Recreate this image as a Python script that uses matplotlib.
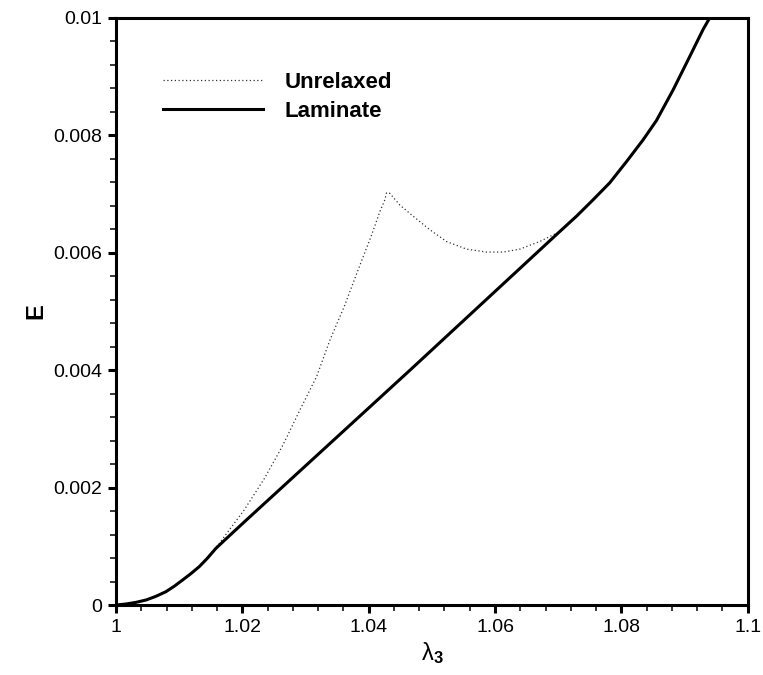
import matplotlib
matplotlib.use("Agg")
import matplotlib.pyplot as plt
from matplotlib.ticker import MultipleLocator

plt.rcParams['font.family'] = ['Liberation Sans', 'DejaVu Sans']
plt.rcParams['mathtext.fontset'] = 'custom'
plt.rcParams['mathtext.rm'] = 'Liberation Sans'
plt.rcParams['mathtext.bf'] = 'Liberation Sans:bold'
plt.rcParams['mathtext.it'] = 'Liberation Sans:italic'

# Unrelaxed energy (dotted)
unrelaxed_x = [1.000, 1.00158, 1.00475, 1.00791, 1.01055, 1.01318, 1.01636, 1.0203, 1.02347,
               1.02632, 1.02911, 1.03176, 1.03386, 1.03612, 1.03834, 1.04046, 1.04177, 1.04256,
               1.04283, 1.04335, 1.04494, 1.04705, 1.04968, 1.05232, 1.05549, 1.05865, 1.06128,
               1.06392, 1.06709, 1.07025]
unrelaxed_y = [0.0, 0.000017, 0.000085, 0.000227, 0.000426, 0.000653, 0.00105, 0.00162, 0.00215,
               0.00270, 0.00332, 0.00389, 0.00451, 0.00508, 0.00571, 0.00630, 0.00670, 0.00690,
               0.00702, 0.00701, 0.00681, 0.00662, 0.00639, 0.00619, 0.00606, 0.00601, 0.00601,
               0.00606, 0.00619, 0.00636]

# Laminate (relaxed) energy (solid)
laminate_x = [1.000, 1.00158, 1.00317, 1.00475, 1.00633, 1.00791, 1.00923, 1.01055, 1.01187,
              1.01318, 1.01450, 1.01582, 1.01846, 1.02057,
              1.04655, 1.07025, 1.07289, 1.07552, 1.07816, 1.08081, 1.08343, 1.08555, 1.08818,
              1.09082, 1.09293, 1.09399]
laminate_y = [0.0, 0.000017, 0.000045, 0.000085, 0.000148, 0.000227, 0.000320, 0.000426, 0.000535,
              0.000653, 0.000800, 0.000965, 0.00123, 0.00144,
              0.00400, 0.00636, 0.00662, 0.00690, 0.00719, 0.00755, 0.00792, 0.00825, 0.00877,
              0.00934, 0.00980, 0.01000]

x_ticks = [1.0, 1.02, 1.04, 1.06, 1.08, 1.1]
x_tick_labels = ['1', '1.02', '1.04', '1.06', '1.08', '1.1']
y_ticks = [0.0, 0.002, 0.004, 0.006, 0.008, 0.01]
y_tick_labels = ['0', '0.002', '0.004', '0.006', '0.008', '0.01']

fig = plt.figure(figsize=(7.63, 6.75), dpi=100)
ax = fig.add_axes([0.152, 0.1037, 0.828, 0.870])

ax.plot(unrelaxed_x, unrelaxed_y, color='#333333', lw=0.9, ls=(0, (1, 2)), label='Unrelaxed')
ax.plot(laminate_x, laminate_y, color='black', lw=2.2, label='Laminate',
        solid_joinstyle='round')

ax.set_xlim(1.0, 1.1)
ax.set_ylim(0.0, 0.01)
ax.set_xticks(x_ticks)
ax.set_xticklabels(x_tick_labels)
ax.set_yticks(y_ticks)
ax.set_yticklabels(y_tick_labels)
ax.xaxis.set_minor_locator(MultipleLocator(0.004))
ax.yaxis.set_minor_locator(MultipleLocator(0.0004))

for s in ax.spines.values():
    s.set_linewidth(2.2)
ax.tick_params(which='major', direction='out', length=6, width=2.2, labelsize=14, pad=4)
ax.tick_params(which='minor', direction='out', length=4, width=1.1)

ax.set_xlabel(r'$\mathrm{λ}_\mathbf{3}$', fontsize=17, labelpad=3)
ax.set_ylabel('E', fontsize=17, fontweight='bold', labelpad=4)

leg = ax.legend(loc='upper left', bbox_to_anchor=(0.074, 0.908), frameon=False,
                prop={'weight': 'bold', 'size': 16}, handlelength=4.5,
                handletextpad=1.0, labelspacing=0.36, borderaxespad=0, borderpad=0)

fig.savefig('out.png', dpi=100)
